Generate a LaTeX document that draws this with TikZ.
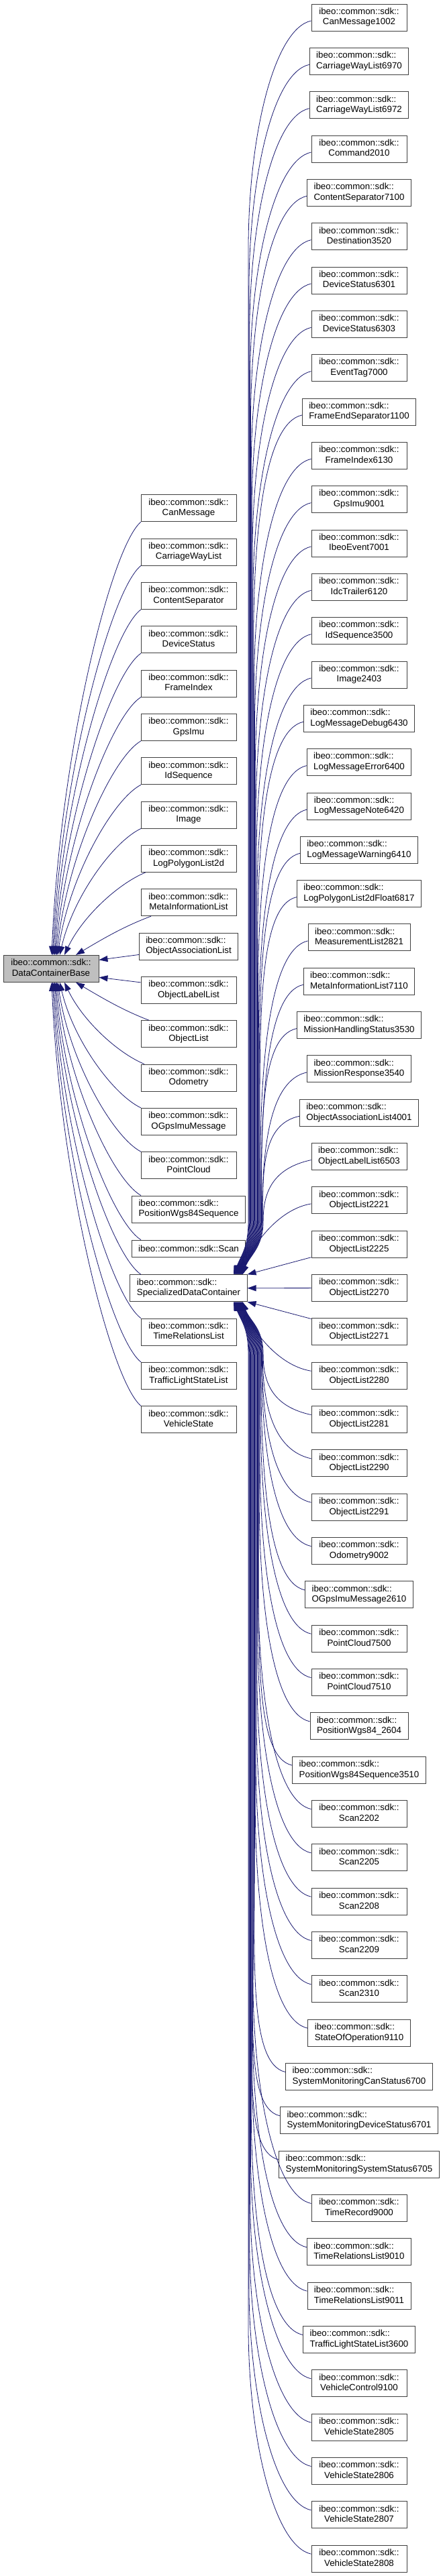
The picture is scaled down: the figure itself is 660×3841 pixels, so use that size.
\documentclass[tikz,border=0pt]{standalone}
\usepackage{fontspec}
\setmainfont{Liberation Sans}
\usepackage{tikz}
\usetikzlibrary{arrows.meta,calc}
\definecolor{navy}{HTML}{191970}
\definecolor{basegray}{HTML}{BFBFBF}
\definecolor{boxline}{HTML}{404040}
\newcommand{\sdk}[1]{\begin{tabular}{@{}l@{}}ibeo::common::sdk::\\\multicolumn{1}{@{}c@{}}{#1}\end{tabular}}

\begin{document}
\begin{tikzpicture}[x=1pt,y=-1pt,>={Triangle[length=13pt,width=9pt]},
  cls/.style={draw=boxline,fill=white,line width=0.9pt,font=\fontsize{13.33}{15.5}\selectfont,
    minimum width=142pt,minimum height=40pt,inner xsep=10pt,inner ysep=1pt},
  isa/.style={->,draw=navy,line width=0.8pt}]
  \useasboundingbox (0,0) rectangle (660,3841);

  \node[cls,fill=basegray] (base) at (76,1444.3) {\sdk{DataContainerBase}};

  \foreach \k/\cy/\txt in {1/757.7/CanMessage, 2/823.0/CarriageWayList, 3/888.4/ContentSeparator,
    4/953.7/DeviceStatus, 5/1019.0/FrameIndex, 6/1084.3/GpsImu, 7/1149.7/IdSequence, 8/1215.0/Image,
    9/1280.3/LogPolygonList2d, 10/1345.7/MetaInformationList, 11/1411.0/ObjectAssociationList,
    12/1476.3/ObjectLabelList, 13/1541.7/ObjectList, 14/1607.0/Odometry, 15/1672.3/OGpsImuMessage,
    16/1737.7/PointCloud, 17/1803.0/PositionWgs84Sequence, 19/1920.7/SpecializedDataContainer,
    20/1986.0/TimeRelationsList, 21/2051.3/TrafficLightStateList, 22/2116.7/VehicleState}
    \node[cls] (m\k) at (281,\cy) {\sdk{\txt}};
  \node[cls,minimum height=25.7pt] (m18) at (281,1862) {ibeo::common::sdk::Scan};

  \foreach \txt [count=\i] in {CanMessage1002, CarriageWayList6970, CarriageWayList6972, Command2010,
    ContentSeparator7100, Destination3520, DeviceStatus6301, DeviceStatus6303, EventTag7000,
    FrameEndSeparator1100, FrameIndex6130, GpsImu9001, IbeoEvent7001, IdcTrailer6120, IdSequence3500,
    Image2403, LogMessageDebug6430, LogMessageError6400, LogMessageNote6420, LogMessageWarning6410,
    LogPolygonList2dFloat6817, MeasurementList2821, MetaInformationList7110, MissionHandlingStatus3530,
    MissionResponse3540, ObjectAssociationList4001, ObjectLabelList6503, ObjectList2221, ObjectList2225,
    ObjectList2270, ObjectList2271, ObjectList2280, ObjectList2281, ObjectList2290, ObjectList2291,
    Odometry9002, OGpsImuMessage2610, PointCloud7500, PointCloud7510, PositionWgs84\_2604,
    PositionWgs84Sequence3510, Scan2202, Scan2205, Scan2208, Scan2209, Scan2310, StateOfOperation9110,
    SystemMonitoringCanStatus6700, SystemMonitoringDeviceStatus6701, SystemMonitoringSystemStatus6705,
    TimeRecord9000, TimeRelationsList9010, TimeRelationsList9011, TrafficLightStateList3600,
    VehicleControl9100, VehicleState2805, VehicleState2806, VehicleState2807, VehicleState2808}
    \node[cls] (r\i) at (535,{26+65.33*(\i-1)}) {\sdk{\txt}};

  \foreach \k/\ex/\dx/\dy in {1/77/0/646.6, 2/78.5/0/581.3, 3/80/0/515.9, 4/81.5/0/450.6, 5/83/0/385.3,
    6/84.5/0/320, 7/86/0/254.6, 8/89/0/189.3, 9/96/7/124, 10/113/15/58.6}{
    \pgfmathsetmacro\dxs{210+\dx-\ex}
    \draw[isa] ($(m\k.south)+(\dx-71,0)$) .. controls +({-0.34*\dxs},{0.04*\dy+12})
      and +({(0.06+20/\dy)*\dxs},{-0.46*\dy}) .. ($(base.north)+(\ex-76,0)$);
  }
  \foreach \k/\ex/\dx/\dy in {13/113/12/57.4, 14/96/5/122.7, 15/89/0/188, 16/86/0/253.4, 17/84.5/0/318.7,
    18/83/0/384.85, 19/81.5/0/436.4, 20/80/0/501.7, 21/78.5/0/567, 22/77/0/632.4}{
    \pgfmathsetmacro\dxs{210+\dx-\ex}
    \draw[isa] ($(m\k.north)+(\dx-71,0)$) .. controls +({-0.34*\dxs},{-0.04*\dy-12})
      and +({(0.06+20/\dy)*\dxs},{0.46*\dy}) .. ($(base.south)+(\ex-76,0)$);
  }
  \draw[isa] ($(m11.south west)+(0,-8)$) -- ($(base.east)+(0,-13)$);
  \draw[isa] ($(m12.north west)+(0,9)$) -- ($(base.east)+(0,13)$);

  \foreach \i in {1,...,27}{
    \pgfmathsetmacro\sy{31+65.33*(\i-1)}
    \pgfmathsetmacro\hgt{min(340,1820-\sy)}
    \pgfmathsetmacro\xv{370+0.85*(\i-1)}
    \pgfmathsetmacro\ex{67+0.5*(\i-1)}
    \draw[isa] ($(r\i.west)+(0,5)$) .. controls +(-55,12) and +(0,{-\hgt/2}) .. (\xv,{\sy+\hgt})
      -- (\xv,1820) .. controls +(0,40) and +(12,-30) .. ($(m19.north)+(\ex,0)$);
  }
  \foreach \i in {33,...,59}{
    \pgfmathsetmacro\sy{19+65.33*(\i-1)}
    \pgfmathsetmacro\hgt{min(340,\sy-2020)}
    \pgfmathsetmacro\xv{370+0.85*(59-\i)}
    \pgfmathsetmacro\ex{67+0.5*(59-\i)}
    \draw[isa] ($(r\i.west)+(0,-7)$) .. controls +(-55,-12) and +(0,{\hgt/2}) .. (\xv,{\sy-\hgt})
      -- (\xv,2020) .. controls +(0,-40) and +(12,30) .. ($(m19.south)+(\ex,0)$);
  }
  \draw[isa] ($(r28.west)+(0,5)$) .. controls +(-50,8) and +(12,-40) .. ($(m19.north)+(80.5,0)$);
  \draw[isa] ($(r32.west)+(0,-7)$) .. controls +(-50,-8) and +(12,40) .. ($(m19.south)+(80.5,0)$);
  \draw[isa] ($(r29.south west)+(0,-1)$) -- (m19.north east);
  \draw[isa] (r30.west) -- (m19.east);
  \draw[isa] ($(r31.north west)+(0,1)$) -- (m19.south east);
\end{tikzpicture}
\end{document}
